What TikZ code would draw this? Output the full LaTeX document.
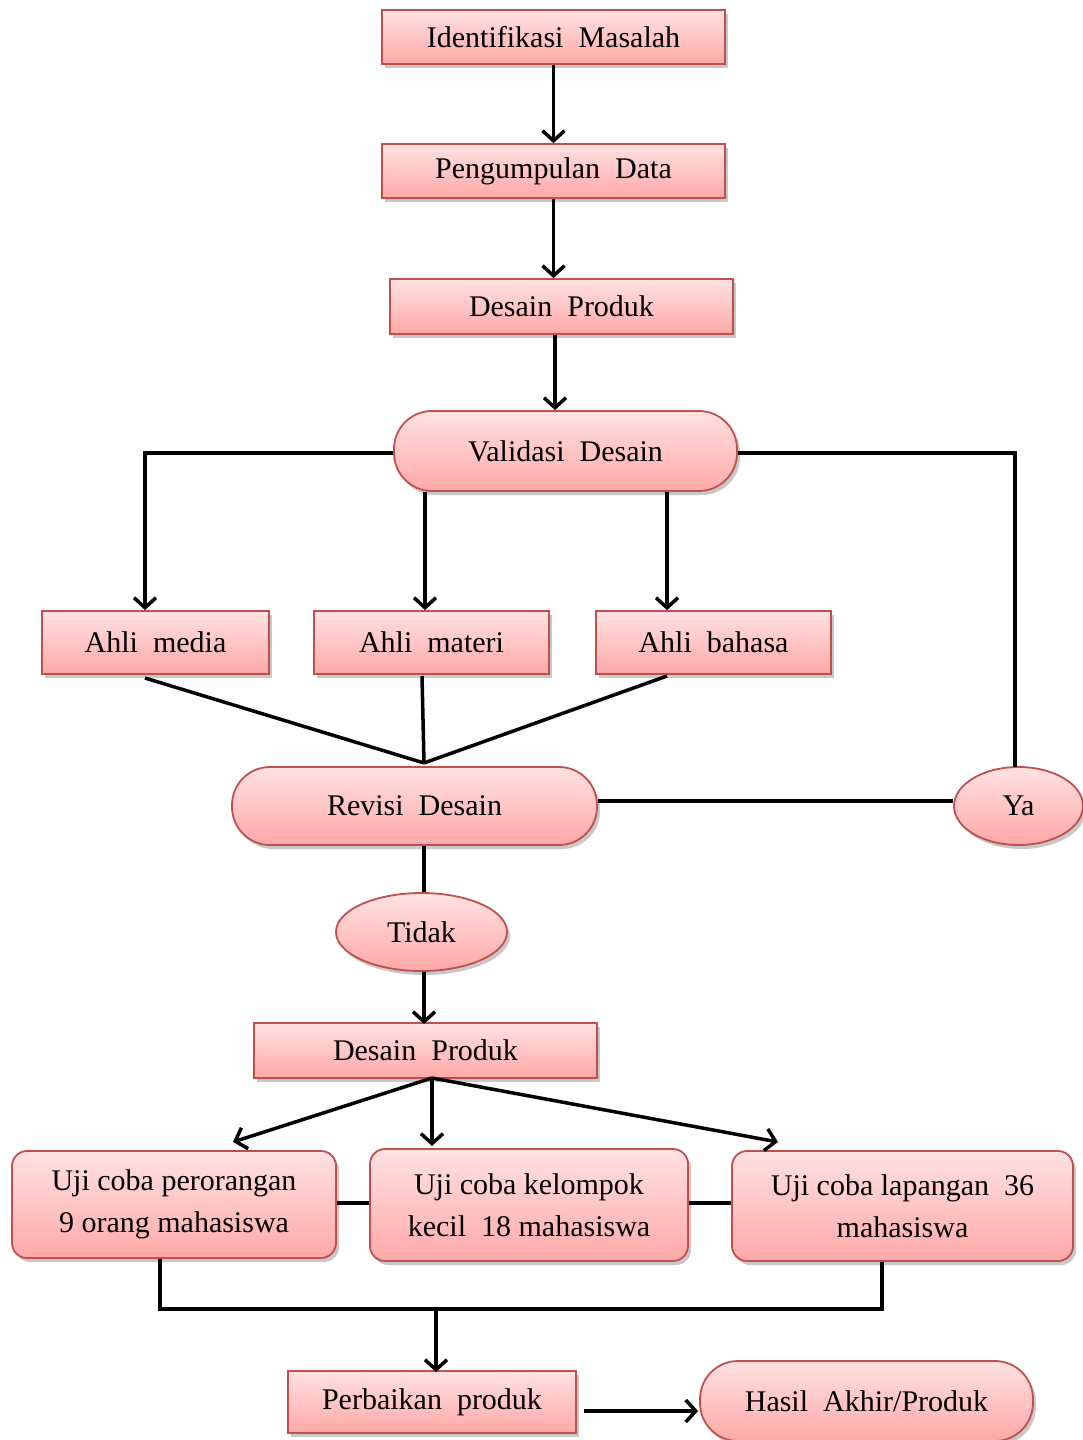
\documentclass[tikz,border=0pt]{standalone}
\usepackage{fontspec}
\setmainfont{Liberation Serif}
\usetikzlibrary{arrows.meta,shapes.geometric,shadows}
\definecolor{bord}{RGB}{192,80,77}
\definecolor{topc}{RGB}{255,226,226}
\definecolor{botc}{RGB}{255,168,168}
\tikzset{
  base/.style={draw=bord, line width=1.8pt, top color=topc, bottom color=botc,
    inner sep=0pt, align=center, font=\fontsize{30}{42}\selectfont,
    drop shadow={shadow xshift=3pt, shadow yshift=-4pt, opacity=0.3, fill=black!70}},
  box/.style={base, rectangle},
  pill/.style={base, rectangle, rounded corners=38pt},
  rbox/.style={base, rectangle, rounded corners=15pt},
  oval/.style={base, ellipse},
  conn/.style={line width=3.5pt, black},
  arr/.style={conn, -{Straight Barb[length=10pt,width=22pt]}}
}
\begin{document}
\begin{tikzpicture}[x=1pt,y=-1pt]
\useasboundingbox (0,0) rectangle (1083,1440);
\fill[white] (0,0) rectangle (1083,1440);

% nodes
\node[box, minimum width=343pt, minimum height=54pt] (idm) at (553.5,37) {Identifikasi\ \ Masalah};
\node[box, minimum width=343pt, minimum height=54pt] (pd) at (553.5,171) {Pengumpulan\ \ Data};
\node[box, minimum width=343pt, minimum height=55pt] (dp1) at (561.5,306.5) {Desain\ \ Produk};
\node[pill, minimum width=343pt, minimum height=80pt] (val) at (565.5,451) {Validasi\ \ Desain};
\node[box, minimum width=227pt, minimum height=63pt] (am) at (155.5,642.5) {Ahli\ \ media};
\node[box, minimum width=235pt, minimum height=63pt] (amt) at (431.5,642.5) {Ahli\ \ materi};
\node[box, minimum width=235pt, minimum height=63pt] (ab) at (713.5,642.5) {Ahli\ \ bahasa};
\node[pill, minimum width=365pt, minimum height=78pt] (rev) at (414.5,806) {Revisi\ \ Desain};
\node[oval, minimum width=129pt, minimum height=78pt] (ya) at (1018.5,806) {Ya};
\node[oval, minimum width=171pt, minimum height=78pt] (tidak) at (421.5,932) {Tidak};
\node[box, minimum width=343pt, minimum height=55pt] (dp2) at (425.5,1050.5) {Desain\ \ Produk};
\node[rbox, minimum width=324pt, minimum height=107pt] (u1) at (174,1204.5) {\raisebox{-3pt}{Uji coba perorangan}\\\raisebox{-3pt}{9 orang mahasiswa}};
\node[rbox, minimum width=318pt, minimum height=112pt] (u2) at (529,1205) {Uji coba kelompok\\kecil\ \ 18 mahasiswa};
\node[rbox, minimum width=341pt, minimum height=110pt] (u3) at (902.5,1206) {Uji coba lapangan\ \ 36\\mahasiswa};
\node[box, minimum width=288pt, minimum height=62pt] (perb) at (432,1402) {Perbaikan\ \ produk};
\node[pill, minimum width=333pt, minimum height=80pt] (hasil) at (866.5,1401) {Hasil\ \ Akhir/Produk};

% top chain
\draw[arr] (idm.south) -- (pd.north);
\draw[arr] (pd.south) -- (pd.south |- dp1.north);
\coordinate (x1) at (555,0);
\draw[arr] (x1 |- dp1.south) -- (x1 |- val.north);

% validasi branches
\coordinate (xa) at (145,0);
\coordinate (xb) at (425,0);
\coordinate (xc) at (667,0);
\coordinate (xy) at (1015,0);
\draw[arr] ([yshift=-2pt]val.west) -- ([yshift=-2pt]xa |- val.west) -- (xa |- am.north);
\draw[arr] (xb |- val.south) -- (xb |- amt.north);
\draw[arr] (xc |- val.south) -- (xc |- ab.north);
\draw[conn] ([yshift=-2pt]val.east) -- ([yshift=-2pt]xy |- val.east) -- ([yshift=-1pt]xy |- ya.north);

% ahli to revisi
\coordinate (rv) at (424,763);
\draw[conn] (145,678) -- (rv);
\draw[conn] (422,676) -- (rv);
\draw[conn] (667,676) -- (rv);

% revisi to ya / tidak
\draw[conn] ([yshift=5pt]rev.east) -- ([yshift=5pt]ya.west);
\draw[conn] (rv |- rev.south) -- (rv |- tidak.north);
\draw[arr] (rv |- tidak.south) -- ([yshift=-2pt]rv |- dp2.north);

% fan to uji
\coordinate (fan) at (432,1078);
\draw[arr] (fan) -- (233,1142);
\draw[arr] (fan) -- (432,1146);
\draw[arr] (fan) -- (778,1142);

% uji links
\coordinate (ly1) at (0,1203);
\draw[conn] (u1.east |- ly1) -- (u2.west |- ly1);
\draw[conn] (u2.east |- ly1) -- (u3.west |- ly1);

% bus
\coordinate (bl) at (160,1309);
\coordinate (br) at (882,1309);
\coordinate (bus) at (436,1309);
\draw[conn] (bl |- u1.south) -- (bl) -- (br) -- (br |- u3.south);
\draw[arr] (bus) -- ([yshift=-2pt]bus |- perb.north);

% final
\draw[arr] (584,1411) -- ([xshift=-1pt]hasil.west |- 0,1411);
\end{tikzpicture}
\end{document}
